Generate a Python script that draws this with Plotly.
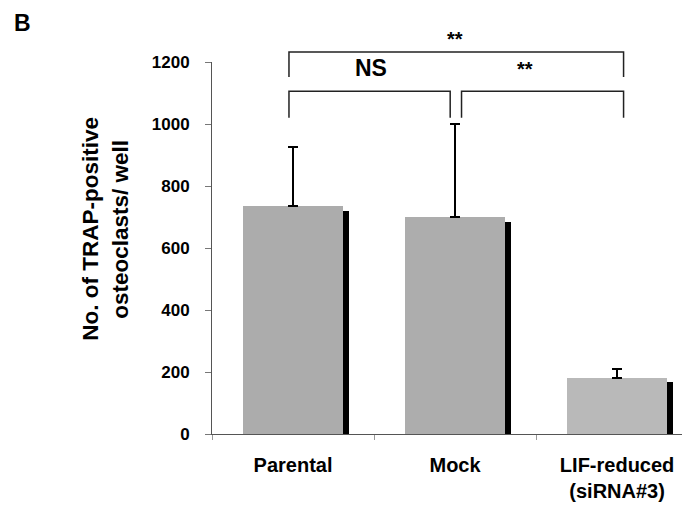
import plotly.graph_objects as go

# ---- data ----
categories = ["Parental", "Mock", "LIF-reduced<br>(siRNA#3)"]
means = [735, 700, 180]
err_upper = [191, 300, 30]
shadow_vals = [720, 684, 168]
bar_colors = ["#acacac", "#adadad", "#b9b9b9"]
y_ticks = [0, 200, 400, 600, 800, 1000, 1200]

# significance brackets (data units)
bracket_top = 1232
bracket_top_end = 1152
bracket_mid = 1106
bracket_mid_end = 1020

Y_MAX = 1200
FONT = "Liberation Sans, Arial, Helvetica, sans-serif"

def yp(v):
    return v / Y_MAX

fig = go.Figure()

fig.add_trace(go.Bar(
    x=categories, y=means, width=0.617,
    marker=dict(color=bar_colors, line=dict(width=0)),
    error_y=dict(type="data", symmetric=False, array=err_upper,
                 arrayminus=[0, 0, 0], color="black", thickness=2, width=5),
    showlegend=False,
))
fig.add_trace(go.Bar(
    x=categories, y=shadow_vals, width=0.036, offset=0.3085,
    marker=dict(color="black", line=dict(width=0)),
    showlegend=False,
))

shapes = []
line = dict(color="#222", width=1.5)
shapes.append(dict(type="path", xref="x", yref="paper",
                   path=f"M -0.025,{yp(bracket_top_end)} L -0.025,{yp(bracket_top)} L 2.04,{yp(bracket_top)} L 2.04,{yp(bracket_top_end)}",
                   line=line))
shapes.append(dict(type="path", xref="x", yref="paper",
                   path=f"M -0.025,{yp(bracket_mid_end)} L -0.025,{yp(bracket_mid)} L 0.97,{yp(bracket_mid)} L 0.97,{yp(bracket_mid_end)}",
                   line=line))
shapes.append(dict(type="path", xref="x", yref="paper",
                   path=f"M 1.04,{yp(bracket_mid_end)} L 1.04,{yp(bracket_mid)} L 2.04,{yp(bracket_mid)} L 2.04,{yp(bracket_mid_end)}",
                   line=line))

annotations = [
    dict(text="<b>**</b>", x=1.0, y=1.062, xref="x", yref="paper", showarrow=False,
         xanchor="center", yanchor="middle",
         font=dict(size=20, family=FONT, color="black")),
    dict(text="<b>NS</b>", x=0.48, y=0.984, xref="x", yref="paper", showarrow=False,
         xanchor="center", yanchor="middle",
         font=dict(size=23, family=FONT, color="black")),
    dict(text="<b>**</b>", x=1.43, y=0.982, xref="x", yref="paper", showarrow=False,
         xanchor="center", yanchor="middle",
         font=dict(size=20, family=FONT, color="black")),
    dict(text="<b>B</b>", x=-0.397, y=1.145, xref="paper", yref="paper", showarrow=False,
         xanchor="center", yanchor="top",
         font=dict(size=23, family=FONT, color="black")),
    dict(text="<b>No. of TRAP-positive</b>", x=-0.256, y=0.551, xref="paper", yref="paper",
         showarrow=False, textangle=-90, xanchor="center", yanchor="middle",
         font=dict(size=22.5, family=FONT, color="black")),
    dict(text="<b>osteoclasts/ well</b>", x=-0.193, y=0.551, xref="paper", yref="paper",
         showarrow=False, textangle=-90, xanchor="center", yanchor="middle",
         font=dict(size=22.5, family=FONT, color="black")),
]

fig.update_layout(
    width=682, height=500,
    margin=dict(l=204, r=0, t=54, b=74),
    paper_bgcolor="white", plot_bgcolor="white",
    barmode="overlay", bargap=0,
    shapes=shapes, annotations=annotations,
    font=dict(family=FONT, color="black"),
    xaxis=dict(range=[-0.5, 2.45], showgrid=False, zeroline=False,
               showline=True, linecolor="#555", linewidth=1,
               ticks="outside", tickson="boundaries", ticklen=5, tickcolor="#999",
               tickfont=dict(size=20, family=FONT, color="black", weight="bold"),
               ticklabelstandoff=13),
    yaxis=dict(range=[0, Y_MAX], tickvals=y_ticks, showgrid=False, zeroline=False,
               showline=True, linecolor="#555", linewidth=1,
               ticks="outside", ticklen=6, tickcolor="#777",
               tickfont=dict(size=17, family=FONT, color="black", weight="bold"),
               ticklabelstandoff=12),
)

fig.write_html("out.html")
